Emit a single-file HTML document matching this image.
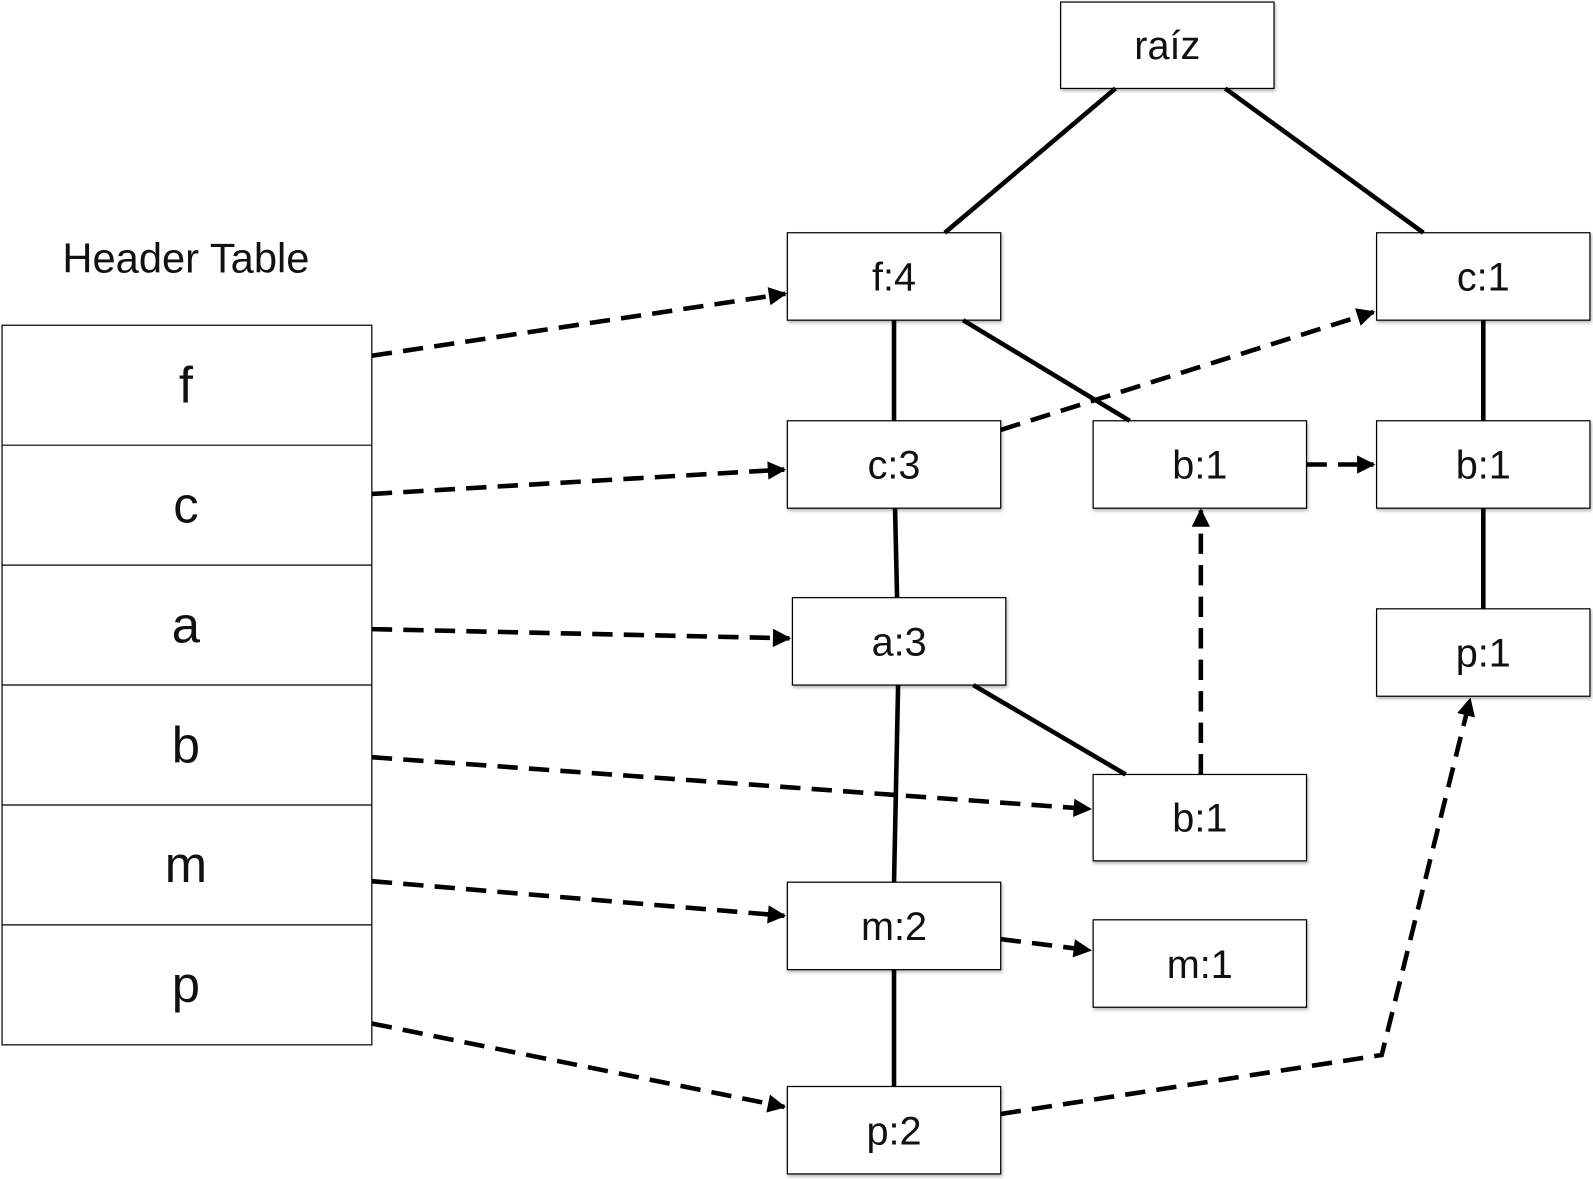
<!DOCTYPE html>
<html><head><meta charset="utf-8"><style>html,body{margin:0;padding:0;background:#fff}svg{display:block}</style></head><body>
<svg width="1593" height="1179" viewBox="0 0 1568 1160" preserveAspectRatio="none" xmlns="http://www.w3.org/2000/svg" font-family="Liberation Sans, sans-serif">
<defs><marker id="a" viewBox="0 0 10 10" refX="9" refY="5" markerWidth="5" markerHeight="4" orient="auto" markerUnits="strokeWidth"><path d="M0,0L10,5L0,10z" fill="#000"/></marker>
<filter id="s"><feDropShadow dx="1" dy="2" stdDeviation="1.5" flood-opacity="0.3"/></filter></defs>
<g fill="#fff" stroke="#000" stroke-width="1.2">
<rect x="2" y="320" width="364" height="708"/>
<line x1="2" y1="438" x2="366" y2="438"/><line x1="2" y1="556" x2="366" y2="556"/><line x1="2" y1="674" x2="366" y2="674"/><line x1="2" y1="792" x2="366" y2="792"/><line x1="2" y1="910" x2="366" y2="910"/>
<g filter="url(#s)">
<rect x="1044" y="2" width="210" height="85"/>
<rect x="775" y="229" width="210" height="86"/><rect x="1355" y="229" width="210" height="86"/>
<rect x="775" y="414" width="210" height="86"/><rect x="1076" y="414" width="210" height="86"/><rect x="1355" y="414" width="210" height="86"/>
<rect x="780" y="588" width="210" height="86"/><rect x="1355" y="599" width="210" height="86"/>
<rect x="1076" y="762" width="210" height="85"/>
<rect x="775" y="868" width="210" height="86"/><rect x="1076" y="905" width="210" height="86"/>
<rect x="775" y="1069" width="210" height="86"/>
</g></g>
<g stroke="#000" stroke-width="4.5" fill="none">
<line x1="1098" y1="87" x2="930" y2="229"/><line x1="1206" y1="87" x2="1401" y2="229"/>
<line x1="880" y1="315" x2="880" y2="414"/><line x1="948" y1="315" x2="1112" y2="414"/>
<line x1="881" y1="500" x2="883" y2="588"/><line x1="884" y1="674" x2="880" y2="868"/>
<line x1="958" y1="674" x2="1108" y2="762"/><line x1="880" y1="954" x2="880" y2="1069"/>
<line x1="1460" y1="315" x2="1460" y2="414"/><line x1="1460" y1="500" x2="1460" y2="599"/>
</g>
<g stroke="#000" stroke-width="4.5" fill="none" stroke-dasharray="20 11" marker-end="url(#a)">
<line x1="366" y1="350" x2="773" y2="289"/>
<line x1="985" y1="423" x2="1352" y2="307"/>
<line x1="366" y1="486" x2="772" y2="462"/>
<line x1="1286" y1="457" x2="1352" y2="457"/>
<line x1="366" y1="619" x2="777" y2="628"/>
<line x1="1182" y1="762" x2="1182" y2="502"/>
<line x1="366" y1="745" x2="1073" y2="796"/>
<line x1="366" y1="867" x2="772" y2="901"/>
<line x1="985" y1="924" x2="1073" y2="935"/>
<line x1="366" y1="1007" x2="772" y2="1089"/>
<path d="M985,1096 L1360,1038 L1447,688"/>
</g>
<g font-size="39" text-anchor="middle" fill="#111">
<text x="1149" y="58">raíz</text>
<text x="880" y="286">f:4</text><text x="1460" y="286">c:1</text>
<text x="880" y="471">c:3</text><text x="1181" y="471">b:1</text><text x="1460" y="471">b:1</text>
<text x="885" y="645">a:3</text><text x="1460" y="656">p:1</text>
<text x="1181" y="818">b:1</text>
<text x="880" y="925">m:2</text><text x="1181" y="962">m:1</text>
<text x="880" y="1126">p:2</text>
</g>
<text x="183" y="268" font-size="41" text-anchor="middle" fill="#111">Header Table</text>
<g font-size="50" text-anchor="middle" fill="#111">
<text x="183" y="396">f</text><text x="183" y="514">c</text><text x="183" y="632">a</text><text x="183" y="750">b</text><text x="183" y="868">m</text><text x="183" y="986">p</text>
</g>
</svg>
</body></html>
